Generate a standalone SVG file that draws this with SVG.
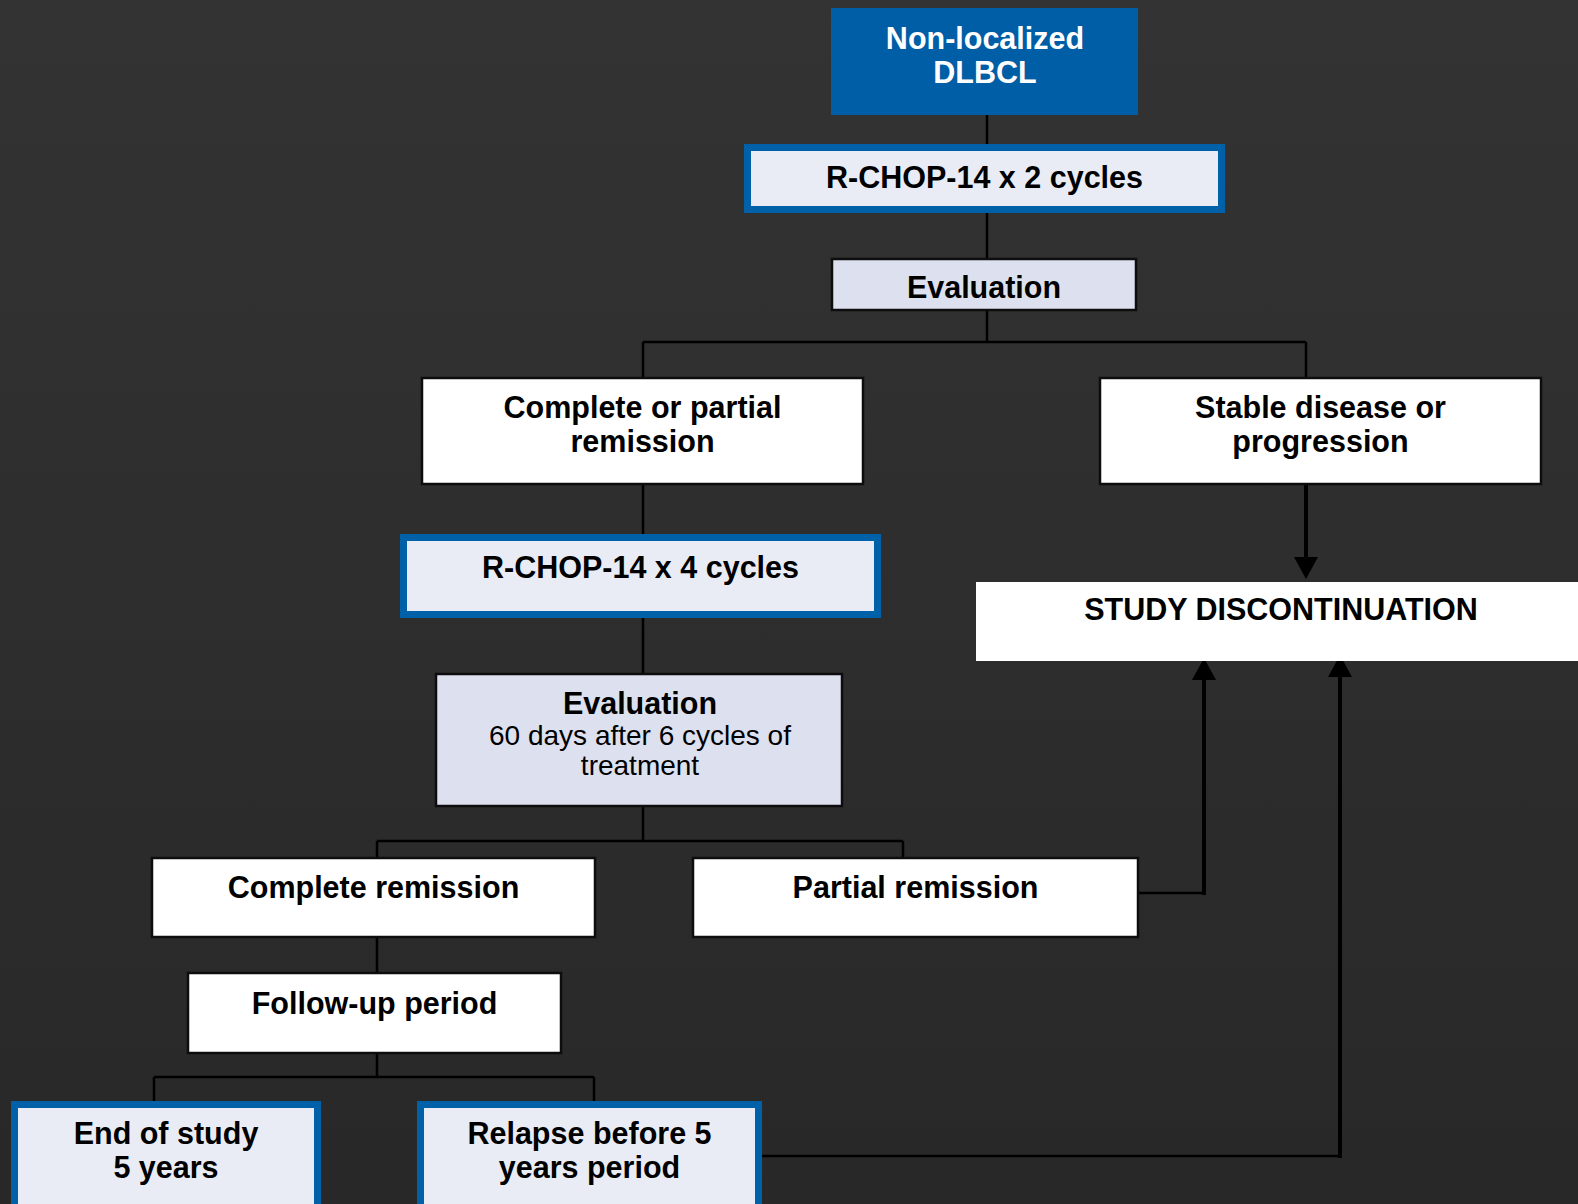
<svg xmlns="http://www.w3.org/2000/svg" width="1578" height="1204" viewBox="0 0 1578 1204">
<defs>
<linearGradient id="bg" x1="0" y1="0" x2="0" y2="1">
<stop offset="0" stop-color="#333333"/>
<stop offset="1" stop-color="#282828"/>
</linearGradient>
<marker id="ah" viewBox="0 0 22 24" refX="0" refY="12" markerWidth="22" markerHeight="24" markerUnits="userSpaceOnUse" orient="auto">
<path d="M0,0 L22,12 L0,24 z" fill="#000"/>
</marker>
<style>
.t{font-family:"Liberation Sans",Arial,sans-serif;font-weight:bold;font-size:30.5px;text-anchor:middle;fill:#000}
.r{font-family:"Liberation Sans",Arial,sans-serif;font-size:28px;text-anchor:middle;fill:#000}
.w{fill:#fff}
.plain{fill:#fff;stroke:#0d0d0d;stroke-width:2.5}
.eval{fill:#dde0ef;stroke:#0d0d0d;stroke-width:2.5}
.blue{fill:#e9ecf5;stroke:#0060a8;stroke-width:7}
.c{fill:none;stroke:#000;stroke-width:2.5}
.ct{fill:none;stroke:#000;stroke-width:4}
</style>
</defs>
<rect width="1578" height="1204" fill="url(#bg)"/>

<g id="connectors">
<path class="c" d="M987,115 V144 M987,213 V258 M987,311 V342 M643,342 H1306 M643,342 V378 M1306,342 V378"/>
<path class="c" d="M643,484 V534 M643,618 V674 M643,806 V841 M377,841 H903 M377,841 V858 M903,841 V858"/>
<path class="c" d="M377,937 V973 M377,1053 V1077 M154,1077 H594 M154,1077 V1101 M594,1077 V1101"/>
<path class="ct" d="M1306,484 V557" marker-end="url(#ah)"/>
<path class="c" d="M1138,893 H1204"/>
<path class="ct" d="M1204,895 V680" marker-end="url(#ah)"/>
<path class="c" d="M762,1156 H1340"/>
<path class="ct" d="M1340,1158 V677" marker-end="url(#ah)"/>
</g>

<g id="n-dlbcl">
<rect x="831" y="8" width="307" height="107" fill="#005ea6"/>
<text class="t w" x="985" y="49">Non-localized</text>
<text class="t w" x="985" y="83">DLBCL</text>
</g>

<g id="n-rchop2">
<rect class="blue" x="747.5" y="147.5" width="474" height="62"/>
<text class="t" x="984.5" y="188">R-CHOP-14 x 2 cycles</text>
</g>

<g id="n-eval1">
<rect class="eval" x="832" y="259" width="304" height="51"/>
<text class="t" x="984" y="298">Evaluation</text>
</g>

<g id="n-cpr">
<rect class="plain" x="422" y="378" width="441" height="106"/>
<text class="t" x="642.5" y="418">Complete or partial</text>
<text class="t" x="642.5" y="452">remission</text>
</g>

<g id="n-stable">
<rect class="plain" x="1100" y="378" width="441" height="106"/>
<text class="t" x="1320.5" y="418">Stable disease or</text>
<text class="t" x="1320.5" y="452">progression</text>
</g>

<g id="n-rchop4">
<rect class="blue" x="403.5" y="537.5" width="474" height="77"/>
<text class="t" x="640.5" y="578">R-CHOP-14 x 4 cycles</text>
</g>

<g id="n-discont">
<rect x="976" y="582" width="620" height="79" fill="#fff"/>
<text class="t" x="1281" y="620">STUDY DISCONTINUATION</text>
</g>

<g id="n-eval2">
<rect class="eval" x="436" y="674" width="406" height="132"/>
<text class="t" x="640" y="714">Evaluation</text>
<text class="r" x="640" y="745">60 days after 6 cycles of</text>
<text class="r" x="640" y="775">treatment</text>
</g>

<g id="n-cr">
<rect class="plain" x="152" y="858" width="443" height="79"/>
<text class="t" x="373.5" y="898">Complete remission</text>
</g>

<g id="n-pr">
<rect class="plain" x="693" y="858" width="445" height="79"/>
<text class="t" x="915.5" y="898">Partial remission</text>
</g>

<g id="n-followup">
<rect class="plain" x="188" y="973" width="373" height="80"/>
<text class="t" x="374.5" y="1014">Follow-up period</text>
</g>

<g id="n-end">
<rect class="blue" x="14.5" y="1104.5" width="303" height="130"/>
<text class="t" x="166" y="1144">End of study</text>
<text class="t" x="166" y="1178">5 years</text>
</g>

<g id="n-relapse">
<rect class="blue" x="420.5" y="1104.5" width="338" height="130"/>
<text class="t" x="589.5" y="1144">Relapse before 5</text>
<text class="t" x="589.5" y="1178">years period</text>
</g>
</svg>
